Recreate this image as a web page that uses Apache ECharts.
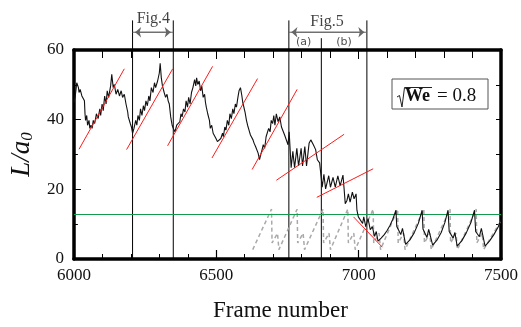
<!DOCTYPE html>
<html>
<head>
<meta charset="utf-8">
<script src="https://cdn.jsdelivr.net/npm/echarts@6/dist/echarts.min.js"></script>
<style>
  html, body { margin: 0; padding: 0; background: #fff; }
  #main { width: 521px; height: 327px; }
</style>
</head>
<body>
<div id="main"></div>
<script>
  // measured L/a0 (black)
  var frames = [6000, 6004, 6007, 6010, 6016, 6018, 6022, 6028, 6033, 6037, 6039, 6041, 6045, 6048, 6053, 6056, 6060, 6064, 6068, 6073,
    6079, 6085, 6091, 6094, 6099, 6103, 6108, 6113, 6117, 6122, 6129, 6133, 6138, 6142, 6148, 6154, 6160, 6166, 6171, 6177,
    6183, 6189, 6191, 6194, 6198, 6202, 6206, 6211, 6217, 6221, 6225, 6230, 6234, 6239, 6244, 6248, 6253, 6258, 6263, 6267,
    6272, 6278, 6283, 6287, 6294, 6300, 6303, 6307, 6311, 6317, 6322, 6327, 6331, 6335, 6340, 6345, 6349, 6355, 6361, 6367,
    6372, 6376, 6380, 6385, 6390, 6394, 6399, 6403, 6408, 6413, 6418, 6424, 6428, 6431, 6435, 6440, 6445, 6449, 6454, 6459,
    6462, 6465, 6470, 6476, 6479, 6484, 6489, 6493, 6499, 6504, 6510, 6516, 6522, 6525, 6530, 6534, 6539, 6544, 6548, 6553,
    6558, 6562, 6567, 6571, 6576, 6580, 6585, 6590, 6593, 6597, 6601, 6606, 6610, 6615, 6620, 6624, 6629, 6633, 6638, 6642,
    6647, 6652, 6656, 6661, 6665, 6670, 6675, 6679, 6684, 6689, 6693, 6698, 6702, 6706, 6711, 6717, 6723, 6729, 6734, 6740,
    6746, 6752, 6756, 6763, 6769, 6775, 6783, 6789, 6798, 6803, 6811, 6817, 6826, 6832, 6841, 6849, 6855, 6863, 6867, 6872,
    6878, 6884, 6895, 6901, 6910, 6918, 6927, 6935, 6945, 6949, 6953, 6959, 6964, 6970, 6978, 6984, 6991, 6994, 6999, 7004,
    7014, 7018, 7025, 7033, 7041, 7048, 7056, 7062, 7068, 7079, 7090, 7100, 7110, 7120, 7131, 7134, 7148, 7154, 7165, 7180,
    7195, 7210, 7223, 7226, 7240, 7246, 7260, 7275, 7290, 7303, 7314, 7318, 7332, 7338, 7346, 7362, 7378, 7394, 7407, 7411,
    7424, 7431, 7444, 7460, 7475, 7490, 7500];
  var lengths = [45.0, 46.4, 48.3, 50.6, 49.2, 47.8, 48.7, 46.8, 47.3, 45.4, 41.7, 39.8, 41.2, 38.4, 39.8, 37.5, 38.4, 37.5, 39.8, 38.9,
    41.7, 40.3, 43.1, 41.2, 44.5, 42.6, 46.8, 44.5, 48.3, 46.4, 49.7, 53.0, 49.2, 50.1, 47.3, 48.7, 46.8, 48.3, 46.4, 47.3,
    44.5, 42.2, 40.8, 41.2, 38.9, 37.9, 36.1, 37.5, 39.8, 38.4, 41.2, 39.8, 43.1, 41.2, 44.0, 42.6, 45.4, 44.0, 46.8, 45.4,
    49.2, 47.8, 50.6, 49.2, 51.1, 53.4, 56.2, 52.0, 49.7, 47.8, 46.4, 47.3, 45.4, 44.5, 40.8, 38.4, 37.5, 36.5, 38.4, 38.9,
    39.4, 41.7, 40.8, 43.1, 42.2, 45.4, 43.6, 46.4, 44.5, 47.8, 49.2, 51.5, 49.7, 52.0, 50.1, 51.1, 48.3, 49.7, 46.4, 47.3,
    45.0, 43.6, 41.7, 39.8, 37.5, 38.4, 36.1, 36.5, 34.6, 33.7, 33.2, 34.6, 36.1, 35.1, 37.9, 37.0, 39.8, 38.4, 41.7, 40.3,
    43.1, 41.7, 44.5, 43.6, 46.4, 48.3, 49.2, 46.8, 45.0, 44.5, 42.2, 39.8, 38.4, 37.0, 35.6, 36.1, 34.2, 33.2, 32.3, 31.8,
    30.4, 28.5, 29.9, 31.4, 32.8, 31.8, 35.1, 34.6, 37.5, 36.5, 39.8, 38.9, 41.2, 38.4, 41.7, 39.4, 40.8, 37.9, 38.4, 35.6,
    35.1, 32.8, 36.5, 26.2, 30.9, 26.2, 31.8, 26.7, 31.8, 26.7, 32.3, 26.7, 33.2, 34.2, 32.8, 31.4, 28.5, 27.6, 27.1, 20.6,
    24.3, 20.1, 23.9, 20.6, 23.4, 20.6, 23.9, 21.0, 24.1, 20.1, 15.9, 16.8, 18.7, 16.3, 19.2, 17.3, 18.7, 14.0, 12.1, 12.1,
    10.2, 12.1, 9.3, 11.6, 8.4, 9.3, 6.5, 7.9, 5.1, 6.0, 7.0, 8.2, 9.6, 11.4, 14.0, 9.3, 7.0, 8.8, 4.2, 5.5,
    7.5, 10.3, 14.0, 8.6, 6.2, 8.5, 4.0, 5.4, 7.6, 10.5, 14.0, 7.9, 6.0, 7.6, 3.7, 5.2, 7.5, 10.4, 14.0, 7.9,
    6.4, 8.8, 3.7, 5.2, 7.0, 9.2, 11.3];

  // model sawtooth (gray dashed)
  var modelFrames = [6628, 6694, 6696, 6715, 6720, 6784, 6786, 6805, 6810, 6875, 6877, 6896, 6901, 6962, 6964, 6983, 6988,
    7051, 7053, 7072, 7077, 7137, 7139, 7158, 7163, 7229, 7231, 7250, 7255, 7321, 7323, 7342, 7347, 7413, 7415, 7434, 7439, 7500];
  var modelLengths = [2.7, 14.3, 4.6, 7.4, 2.7, 14.3, 4.6, 7.4, 2.7, 14.3, 4.6, 7.4, 2.7, 14.3, 4.6, 7.4, 2.7,
    14.3, 4.6, 7.4, 2.7, 14.3, 4.6, 7.4, 2.7, 14.3, 4.6, 7.4, 2.7, 14.3, 4.6, 7.4, 2.7, 14.3, 4.6, 7.4, 2.7, 11.0];

  // red guide lines: [frame0, L0, frame1, L1]
  var tangents = [
    [6018, 31.5, 6177, 54.6],
    [6185, 31.4, 6347, 54.6],
    [6329, 32.5, 6487, 55.3],
    [6485, 29.0, 6645, 51.8],
    [6626, 25.7, 6784, 48.7],
    [6711, 22.6, 6949, 35.8],
    [6853, 17.7, 7051, 25.9],
    [6982, 12.1, 7083, 3.4]
  ];

  var figFrames = [6206, 6349, 6755, 7029]; // Fig.4 / Fig.5 ranges
  var splitFrame = 6869;                     // (a) | (b)
  var threshold = 12.9;
  var arrowLevel = 65.1;

  var serif = '"Liberation Serif", "DejaVu Serif", serif';

  var chart = echarts.init(document.getElementById('main'));

  var series = [];

  // vertical range lines (go above the frame)
  figFrames.forEach(function (f) {
    series.push({
      type: 'line', clip: false, silent: true, symbol: 'none', z: 3,
      data: [[f, 0], [f, 68.5]],
      lineStyle: { color: '#000', width: 1 }
    });
  });
  series.push({
    type: 'line', clip: false, silent: true, symbol: 'none', z: 3,
    data: [[splitFrame, 0], [splitFrame, 63.4]],
    lineStyle: { color: '#000', width: 1 }
  });

  // double arrows for Fig.4 and Fig.5 ranges
  [[figFrames[0], figFrames[1]], [figFrames[2], figFrames[3]]].forEach(function (r) {
    series.push({
      type: 'line', clip: false, silent: true, z: 3,
      data: [
        { value: [r[0] + 9, arrowLevel], symbolRotate: 90 },
        { value: [r[1] - 9, arrowLevel], symbolRotate: -90 }
      ],
      symbol: 'arrow', symbolSize: [8, 6], showSymbol: true,
      itemStyle: { color: '#666' },
      lineStyle: { color: '#666', width: 1 }
    });
    series.push({
      type: 'line', clip: false, silent: true, symbol: 'none', z: 3,
      data: [[r[0], arrowLevel], [r[1], arrowLevel]],
      lineStyle: { color: '#666', width: 1 }
    });
  });

  // model (gray dashed)
  series.push({
    type: 'line', symbol: 'none', z: 4,
    data: modelFrames.map(function (f, i) { return [f, modelLengths[i]]; }),
    lineStyle: { color: '#a9a9a9', width: 1.5, type: [4, 3] }
  });

  // measured (black)
  series.push({
    type: 'line', symbol: 'none', z: 6,
    data: frames.map(function (f, i) { return [f, lengths[i]]; }),
    lineStyle: { color: '#111', width: 1.1 },
    markLine: {
      silent: true, symbol: 'none', label: { show: false },
      lineStyle: { color: '#139a4c', width: 1, type: 'solid' },
      data: [{ yAxis: threshold }]
    }
  });

  // red guide lines
  tangents.forEach(function (t) {
    series.push({
      type: 'line', symbol: 'none', z: 7,
      data: [[t[0], t[1]], [t[2], t[3]]],
      lineStyle: { color: '#ff1a1a', width: 1 }
    });
  });

  // labels
  series.push({
    type: 'scatter', clip: false, symbolSize: 0, silent: true,
    data: [[6279, 68.9, 'Fig.4'], [6889, 68.2, 'Fig.5']],
    label: {
      show: true, position: 'inside', color: '#111',
      fontFamily: serif, fontSize: 16,
      formatter: function (p) { return p.data[2]; }
    }
  });
  series.push({
    type: 'scatter', clip: false, symbolSize: 0, silent: true,
    data: [[6807, 62.3, '(a)'], [6949, 62.3, '(b)']],
    label: {
      show: true, position: 'inside', color: '#222',
      fontFamily: '"DejaVu Sans", sans-serif', fontSize: 11,
      formatter: function (p) { return p.data[2]; }
    }
  });

  function frameLine() {
    return { show: true, onZero: false, lineStyle: { color: '#000', width: 3.5 } };
  }
  function plain(v) { return String(v); }

  var option = {
    animation: false,
    backgroundColor: '#fff',
    grid: { left: 72, right: 14, top: 50, bottom: 64 },
    xAxis: [{
      type: 'value', min: 6000, max: 7500, interval: 500,
      axisLine: frameLine(),
      axisTick: { inside: true, length: 9, lineStyle: { color: '#000', width: 1.2 } },
      minorTick: { show: true, splitNumber: 5, length: 5, lineStyle: { color: '#000', width: 1 } },
      splitLine: { show: false },
      axisLabel: { color: '#111', fontFamily: serif, fontSize: 17, margin: 8, formatter: plain },
      name: 'Frame number', nameLocation: 'middle', nameGap: 40,
      nameTextStyle: { color: '#111', fontFamily: serif, fontSize: 23, padding: [0, 14, 0, 0] }
    }, {
      type: 'value', min: 6000, max: 7500, interval: 500, position: 'top',
      axisLine: frameLine(),
      axisTick: { inside: true, length: 9, lineStyle: { color: '#000', width: 1 } },
      minorTick: { show: true, splitNumber: 5, length: 8, lineStyle: { color: '#000', width: 1 } },
      splitLine: { show: false },
      axisLabel: { show: false }
    }],
    yAxis: [{
      type: 'value', min: 0, max: 60, interval: 20,
      axisLine: frameLine(),
      axisTick: { inside: true, length: 7, lineStyle: { color: '#000', width: 1 } },
      minorTick: { show: true, splitNumber: 2, length: 4, lineStyle: { color: '#000', width: 1 } },
      splitLine: { show: false },
      axisLabel: { color: '#111', fontFamily: serif, fontSize: 17, margin: 10, formatter: plain },
      name: '{i|L/a}{s|0}', nameLocation: 'middle', nameGap: 28,
      nameTextStyle: {
        rich: {
          i: { fontFamily: serif, fontStyle: 'italic', fontSize: 27, color: '#111' },
          s: { fontFamily: serif, fontStyle: 'italic', fontSize: 17, color: '#111', padding: [12, 0, 0, 0] }
        }
      }
    }, {
      type: 'value', min: 0, max: 60, interval: 10, position: 'right',
      axisLine: frameLine(),
      axisTick: { inside: true, length: 5, lineStyle: { color: '#000', width: 1 } },
      splitLine: { show: false },
      axisLabel: { show: false }
    }],
    graphic: [{
      type: 'group',
      children: [
        { type: 'rect', shape: { x: 392, y: 79, width: 96, height: 30 },
          style: { fill: '#fff', stroke: '#555', lineWidth: 1 } },
        { type: 'polyline', shape: { points: [[397, 97], [399.5, 95.5], [402, 107], [404.5, 87.5], [432, 87.5]] },
          style: { fill: null, stroke: '#222', lineWidth: 1 } },
        { type: 'text', x: 405, y: 96,
          style: { text: 'We', fill: '#111', font: 'bold 18px ' + serif, verticalAlign: 'middle' } },
        { type: 'text', x: 437, y: 96,
          style: { text: '= 0.8', fill: '#111', font: '19px ' + serif, verticalAlign: 'middle' } }
      ]
    }],
    series: series
  };

  chart.setOption(option);
</script>
</body>
</html>
